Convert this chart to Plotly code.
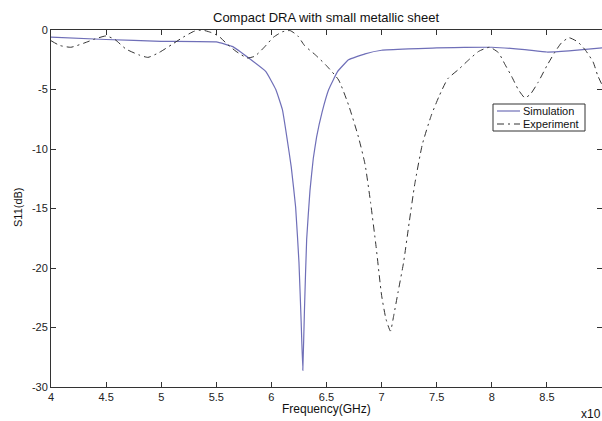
import plotly.graph_objects as go

sim_freq = [4.0, 4.5, 5.0, 5.5, 5.65, 5.8, 5.95, 6.04, 6.1, 6.14, 6.18, 6.22, 6.25, 6.27, 6.285,
            6.3, 6.32, 6.35, 6.38, 6.41, 6.46, 6.52, 6.6, 6.7, 6.85, 7.0, 7.5, 8.0, 8.3, 8.5, 8.7, 9.0]
sim_s11 = [-0.6, -0.8, -0.95, -1.0, -1.4, -2.4, -3.5, -5.0, -6.7, -9.0, -11.5, -14.9, -19.5, -24.5, -28.6,
           -23.5, -17.6, -13.5, -10.8, -9.0, -6.9, -5.0, -3.5, -2.5, -2.0, -1.7, -1.5, -1.45, -1.65, -1.85, -1.75, -1.5]

exp_freq = [4.0, 4.08, 4.18, 4.3, 4.4, 4.5, 4.58, 4.68, 4.8, 4.88, 4.98, 5.1, 5.2, 5.3, 5.37, 5.45, 5.52,
            5.6, 5.68, 5.78, 5.85, 5.93, 6.02, 6.1, 6.17, 6.24, 6.3, 6.4, 6.5, 6.61, 6.7, 6.79, 6.85, 6.9,
            6.95, 7.0, 7.04, 7.08, 7.11, 7.15, 7.2, 7.25, 7.3, 7.37, 7.45, 7.52, 7.6, 7.7, 7.78, 7.88, 7.98,
            8.06, 8.12, 8.18, 8.24, 8.3, 8.35, 8.42, 8.5, 8.57, 8.63, 8.7, 8.78, 8.85, 8.92, 8.96, 9.0]
exp_s11 = [-0.9, -1.3, -1.45, -1.1, -0.75, -0.5, -0.8, -1.6, -2.1, -2.3, -1.9, -1.2, -0.6, -0.1, 0.0, -0.2, -0.5,
           -1.2, -1.8, -2.35, -2.2, -1.5, -0.6, -0.15, -0.05, -0.5, -1.3, -2.1, -3.0, -4.2, -6.3, -9.0, -11.3, -14.5,
           -18.2, -22.3, -24.3, -25.3, -24.0, -22.0, -19.5, -16.2, -13.0, -9.6, -7.2, -5.6, -4.1, -3.3, -2.6, -1.8, -1.45,
           -1.9, -2.9, -3.9, -5.0, -5.7, -5.4, -4.4, -3.0, -1.9, -1.1, -0.65, -1.0, -1.7, -2.7, -3.8, -4.6]

x_ticks = [4, 4.5, 5, 5.5, 6, 6.5, 7, 7.5, 8, 8.5, 9]
y_ticks = [0, -5, -10, -15, -20, -25, -30]

FONT = "Liberation Sans, Arial, sans-serif"
SIM_COLOR = "#6F6FB8"
EXP_COLOR = "#333333"
EXP_DASH = "7px,4px,2px,4px"

W, H = 602, 421
ML, MR, MT, MB = 51, 0, 30, 34
plot_w = W - ML - MR
plot_h = H - MT - MB


def px_x(px):
    return (px - ML) / plot_w


def px_y(py):
    return 1 - (py - MT) / plot_h


fig = go.Figure()
fig.add_trace(go.Scatter(x=sim_freq, y=sim_s11, mode="lines", name="Simulation",
                         line=dict(color=SIM_COLOR, width=1.2, shape="spline", smoothing=0.3)))
fig.add_trace(go.Scatter(x=exp_freq, y=exp_s11, mode="lines", name="Experiment",
                         line=dict(color=EXP_COLOR, width=1, dash=EXP_DASH, shape="spline", smoothing=0.5)))

axis_common = dict(showline=True, linecolor="#333333", linewidth=1, mirror="ticks", ticks="inside",
                   ticklen=5, tickcolor="#333333", showgrid=False, zeroline=False,
                   tickfont=dict(family=FONT, size=11, color="#222222"))

# legend box (drawn manually to match the compact MATLAB legend)
lg_x0, lg_x1, lg_y0, lg_y1 = 493, 585, 104, 131
shapes = [
    dict(type="rect", xref="paper", yref="paper", x0=px_x(lg_x0), x1=px_x(lg_x1), y0=px_y(lg_y1), y1=px_y(lg_y0),
         line=dict(color="#333333", width=1), fillcolor="white", layer="above"),
    dict(type="line", xref="paper", yref="paper", x0=px_x(497), x1=px_x(520), y0=px_y(111), y1=px_y(111),
         line=dict(color=SIM_COLOR, width=1.2), layer="above"),
    dict(type="line", xref="paper", yref="paper", x0=px_x(497), x1=px_x(520), y0=px_y(124), y1=px_y(124),
         line=dict(color=EXP_COLOR, width=1, dash=EXP_DASH), layer="above"),
]


def label(text, px, py, size=11, xanchor="center", angle=0):
    return dict(text=text, x=px_x(px), y=px_y(py), xref="paper", yref="paper",
                xanchor=xanchor, yanchor="middle", textangle=angle, showarrow=False,
                font=dict(family=FONT, size=size, color="#111111"))


annotations = [
    label("Compact DRA with small metallic sheet", 326, 18, size=13),
    label("Frequency(GHz)", 326, 409, size=12),
    label("S11(dB)", 18, 207, angle=-90),
    label("x10", 591, 414, size=12),
    label("Simulation", 521, 111, size=11, xanchor="left"),
    label("Experiment", 521, 124, size=11, xanchor="left"),
]

fig.update_layout(
    width=W, height=H,
    margin=dict(l=ML, r=MR, t=MT, b=MB),
    paper_bgcolor="white", plot_bgcolor="white",
    xaxis=dict(range=[4, 9], tickvals=x_ticks, ticktext=[str(v) for v in x_ticks], **axis_common),
    yaxis=dict(range=[-30, 0], tickvals=y_ticks, ticktext=[str(v) for v in y_ticks], **axis_common),
    showlegend=False,
    shapes=shapes,
    annotations=annotations,
)

fig.write_html("out.html", config={"displayModeBar": False},
               post_script="document.body.style.margin='0';document.body.style.overflow='hidden';")
